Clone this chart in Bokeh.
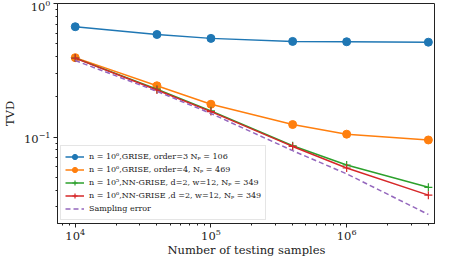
from bokeh.plotting import figure
from bokeh.models import Range1d, Legend, LegendItem, FixedTicker
from bokeh.embed import file_html
from bokeh.resources import INLINE

samples = [1e4, 4e4, 1e5, 4e5, 1e6, 4e6]
grise3 = [0.67, 0.586, 0.548, 0.52, 0.517, 0.513]
grise4 = [0.393, 0.242, 0.176, 0.124, 0.105, 0.095]
nn5 = [0.39, 0.228, 0.157, 0.086, 0.0617, 0.042]
nn6 = [0.39, 0.225, 0.155, 0.085, 0.0586, 0.0367]
samp_err = [0.374, 0.22, 0.15, 0.079, 0.053, 0.0263]

x_major = [1e4, 1e5, 1e6]
x_minor = [8e3, 9e3] + [k * 1e4 for k in range(2, 10)] + [k * 1e5 for k in range(2, 10)] + [k * 1e6 for k in range(2, 5)]
y_major = [0.1, 1.0]
y_minor = [k * 0.01 for k in range(3, 10)] + [k * 0.1 for k in range(2, 10)]

labels = [
    "n = 10\u2076,GRISE, order=3 N\u209a = 106",
    "n = 10\u2076,GRISE, order=4, N\u209a = 469",
    "n = 10\u2075,NN-GRISE, d=2, w=12, N\u209a = 349",
    "n = 10\u2076,NN-GRISE ,d =2, w=12, N\u209a = 349",
    "Sampling error",
]
colors = ["#1f77b4", "#ff7f0e", "#2ca02c", "#d62728", "#9467bd"]

FONT = "DejaVu Serif"

p = figure(width=435, height=259, x_axis_type="log", y_axis_type="log",
           output_backend="svg", toolbar_location=None,
           x_range=Range1d(7400, 4.515e6), y_range=Range1d(0.0225, 1.0),
           min_border_left=52, min_border_right=0, min_border_top=3,
           min_border_bottom=32)
p.grid.visible = False
p.outline_line_color = "#222222"
p.outline_line_width = 1

p.xaxis.ticker = FixedTicker(ticks=x_major, minor_ticks=x_minor)
p.yaxis.ticker = FixedTicker(ticks=y_major, minor_ticks=y_minor)

for ax in (p.xaxis[0], p.yaxis[0]):
    ax.major_label_text_font = FONT
    ax.major_label_text_font_size = "11.5px"
    ax.major_label_text_color = "#222222"
    ax.axis_label_text_font = FONT
    ax.axis_label_text_font_size = "11.5px"
    ax.axis_label_text_font_style = "normal"
    ax.axis_label_text_color = "#222222"
    ax.major_tick_out = 4
    ax.major_tick_in = 0
    ax.minor_tick_out = 2
    ax.minor_tick_in = 0
    ax.major_label_standoff = 2
    ax.axis_label_standoff = 0
    ax.axis_line_color = "#222222"
    ax.major_tick_line_color = "#222222"
    ax.minor_tick_line_color = "#222222"

p.xaxis.axis_label = "Number of testing samples"
p.xaxis.major_label_standoff = 1
p.yaxis.axis_label = "TVD"
p.yaxis.major_label_standoff = 3
p.yaxis.axis_label_standoff = 4
p.yaxis.major_label_orientation = "horizontal"

r1 = p.line(samples, grise3, color=colors[0], line_width=1.5)
m1 = p.scatter(samples, grise3, color=colors[0], size=8, marker="circle")
r2 = p.line(samples, grise4, color=colors[1], line_width=1.5)
m2 = p.scatter(samples, grise4, color=colors[1], size=8, marker="circle")
r3 = p.line(samples, nn5, color=colors[2], line_width=1.5)
m3 = p.scatter(samples, nn5, color=colors[2], size=8, marker="cross", line_width=1.2)
r4 = p.line(samples, nn6, color=colors[3], line_width=1.5)
m4 = p.scatter(samples, nn6, color=colors[3], size=8, marker="cross", line_width=1.2)
r5 = p.line(samples, samp_err, color=colors[4], line_width=1.5, line_dash="5 3")

items = [
    LegendItem(label=labels[0], renderers=[r1, m1]),
    LegendItem(label=labels[1], renderers=[r2, m2]),
    LegendItem(label=labels[2], renderers=[r3, m3]),
    LegendItem(label=labels[3], renderers=[r4, m4]),
    LegendItem(label=labels[4], renderers=[r5]),
]
legend = Legend(items=items, location="bottom_left",
                label_text_font=FONT, label_text_font_size="8px",
                label_text_color="#222222",
                glyph_width=19, glyph_height=13, label_height=13,
                spacing=0, padding=4, margin=3, label_standoff=5,
                border_line_color="#cccccc", border_line_width=1,
                background_fill_alpha=0.8)
p.add_layout(legend)

open("out.html", "w").write(file_html(p, INLINE))
